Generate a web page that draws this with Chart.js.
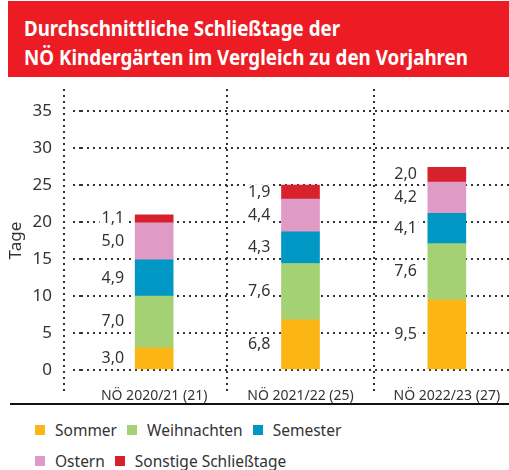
<!DOCTYPE html>
<html lang="de">
<head>
<meta charset="utf-8">
<title>Schließtage NÖ Kindergärten</title>
<script src="https://cdn.jsdelivr.net/npm/chart.js@4"></script>
<style>
  html, body { margin: 0; padding: 0; background: #fff; }
  body { width: 509px; height: 470px; position: relative; overflow: hidden; font-family: "Noto Sans", sans-serif; }
  #banner { position: absolute; left: 8px; top: 1px; width: 501px; height: 76px; background: #ed1c24; }
  #banner div { position: absolute; left: 16px; color: #fff; font-weight: 700; font-size: 22px; line-height: 29px; white-space: nowrap; transform-origin: 0 0; }
  #wrap { position: absolute; left: 0; top: 80px; width: 520px; height: 330px; }
  #legend { position: absolute; left: 35px; top: 414px; color: #333; font-size: 15.5px; }
  .row { display: flex; height: 31px; align-items: center; }
  .item { display: flex; align-items: center; margin-right: 10px; }
  .box { width: 10px; height: 10px; margin-right: 10px; }
</style>
</head>
<body>
<div id="banner">
  <div id="t1" style="top: 12px;">Durchschnittliche Schließtage der</div>
  <div id="t2" style="top: 41px;">NÖ Kindergärten im Vergleich zu den Vorjahren</div>
</div>
<div id="wrap"><canvas id="myChart" width="520" height="330"></canvas></div>
<div id="legend"></div>
<script>
// Data
const categories = ['NÖ 2020/21 (21)', 'NÖ 2021/22 (25)', 'NÖ 2022/23 (27)'];
const seriesNames = ['Sommer', 'Weihnachten', 'Semester', 'Ostern', 'Sonstige Schließtage'];
const sommer = [3.0, 6.8, 9.5];
const weihnachten = [7.0, 7.6, 7.6];
const semester = [4.9, 4.3, 4.1];
const ostern = [5.0, 4.4, 4.2];
const sonstige = [1.1, 1.9, 2.0];
const yMax = 35;
const yStep = 5;

const colors = ['#fbb615', '#a3d174', '#0097c4', '#df9bc5', '#d7222b'];
const values = [sommer, weihnachten, semester, ostern, sonstige];
const textColor = '#333';

// squeeze the title lines to the width used in the original
function fitTitle(id, target) {
    const el = document.getElementById(id);
    const w = el.getBoundingClientRect().width;
    el.style.transform = 'scaleX(' + (target / w) + ')';
}
fitTitle('t1', 316);
fitTitle('t2', 444);

// legend in two rows like the original
const legend = document.getElementById('legend');
[[0, 1, 2], [3, 4]].forEach(rowIdx => {
    const row = document.createElement('div');
    row.className = 'row';
    rowIdx.forEach(i => {
        const item = document.createElement('div');
        item.className = 'item';
        item.innerHTML = '<span class="box" style="background:' + colors[i] + '"></span>' + seriesNames[i];
        row.appendChild(item);
    });
    legend.appendChild(row);
});

// dotted vertical lines, value labels and the bottom rule
const decoPlugin = {
    id: 'deco',
    beforeDatasetsDraw(chart) {
        const {ctx, chartArea, scales} = chart;
        const x = scales.x;
        const xs = [chartArea.left - 17];
        for (let i = 0; i < categories.length - 1; i++) {
            xs.push((x.getPixelForValue(i) + x.getPixelForValue(i + 1)) / 2);
        }
        ctx.save();
        ctx.strokeStyle = textColor;
        ctx.lineWidth = 2;
        ctx.setLineDash([2, 4]);
        xs.forEach(px => {
            ctx.beginPath();
            ctx.moveTo(Math.round(px), 9);
            ctx.lineTo(Math.round(px), 315);
            ctx.stroke();
        });
        ctx.setLineDash([]);
        ctx.strokeStyle = '#111';
        ctx.beginPath();
        ctx.moveTo(10, 324);
        ctx.lineTo(chart.width, 324);
        ctx.stroke();
        ctx.restore();
    },
    afterDatasetsDraw(chart) {
        const {ctx} = chart;
        ctx.save();
        ctx.font = '16px "Noto Sans"';
        ctx.textAlign = 'right';
        ctx.textBaseline = 'middle';
        chart.data.datasets.forEach((ds, di) => {
            chart.getDatasetMeta(di).data.forEach((bar, i) => {
                const txt = ds.data[i].toFixed(1).replace('.', ',');
                const tx = bar.x - bar.width / 2 - 11;
                const ty = (bar.y + bar.base) / 2;
                const w = ctx.measureText(txt).width;
                ctx.fillStyle = '#fff';
                ctx.fillRect(tx - w - 2, ty - 8, w + 4, 16);
                ctx.fillStyle = textColor;
                ctx.fillText(txt, tx, ty);
            });
        });
        ctx.restore();
    }
};

const ctx = document.getElementById('myChart').getContext('2d');
const chart = new Chart(ctx, {
    type: 'bar',
    data: {
        labels: categories,
        datasets: seriesNames.map((name, i) => ({
            label: name,
            data: values[i],
            backgroundColor: colors[i],
            barThickness: 38
        }))
    },
    options: {
        responsive: false,
        animation: false,
        layout: { padding: { top: 29, right: 0, left: 0, bottom: 0 } },
        plugins: {
            legend: { display: false },
            tooltip: { enabled: false }
        },
        scales: {
            x: {
                stacked: true,
                offset: true,
                grid: { display: false },
                border: { display: false },
                ticks: { color: textColor, padding: 10, font: { family: 'Noto Sans', size: 14 } },
                afterFit: scale => { scale.height = 40; }
            },
            y: {
                stacked: true,
                min: 0,
                max: yMax,
                ticks: { stepSize: yStep, color: textColor, padding: 21, font: { family: 'Noto Sans', size: 17 } },
                grid: { color: textColor, lineWidth: 2, tickLength: 8, tickColor: textColor, tickBorderDash: [2, 4] },
                border: { display: false, dash: [2, 4] },
                title: { display: true, text: 'Tage', color: textColor, padding: { top: 6, bottom: 0 }, font: { family: 'Noto Sans', size: 17 } },
                afterFit: scale => { scale.width = 81; }
            }
        }
    },
    plugins: [decoPlugin]
});
</script>
</body>
</html>
